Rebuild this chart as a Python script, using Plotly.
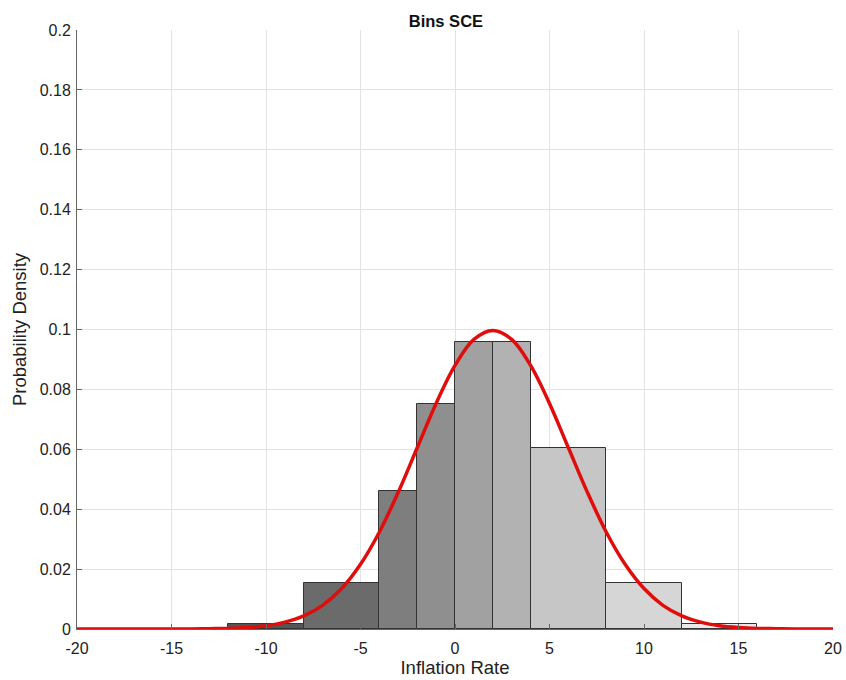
import plotly.graph_objects as go

# Histogram bins (edges) and densities
bin_left = [-12, -8, -4, -2, 0, 2, 4, 8, 12]
bin_right = [-8, -4, -2, 0, 2, 4, 8, 12, 16]
density = [0.0017, 0.0154, 0.046, 0.075, 0.0958, 0.0958, 0.0605, 0.0154, 0.0017]
bar_colors = ["#555555", "#6b6b6b", "#7e7e7e", "#8f8f8f", "#a1a1a1",
              "#b2b2b2", "#c6c6c6", "#d6d6d6", "#e9e9e9"]

# Fitted density curve, x = -20..20
curve_x = list(range(-20, 21))
curve_y = [0.0, 0.0, 0.0, 0.0, 0.0, 0.0, 0.0,
           0.0001, 0.0002, 0.0005, 0.0011, 0.0023, 0.0044, 0.0079, 0.0135, 0.0216,
           0.0324, 0.0457, 0.0605, 0.0753, 0.0880, 0.0967, 0.0997, 0.0967, 0.0880,
           0.0753, 0.0605, 0.0457, 0.0324, 0.0216, 0.0135, 0.0079, 0.0044, 0.0023,
           0.0011, 0.0005, 0.0002, 0.0001, 0.0, 0.0, 0.0]

x_ticks = [-20, -15, -10, -5, 0, 5, 10, 15, 20]
y_ticks = [0, 0.02, 0.04, 0.06, 0.08, 0.1, 0.12, 0.14, 0.16, 0.18, 0.2]
y_ticktext = ["0", "0.02", "0.04", "0.06", "0.08", "0.1", "0.12", "0.14", "0.16", "0.18", "0.2"]

centers = [(a + b) / 2 for a, b in zip(bin_left, bin_right)]
widths = [b - a for a, b in zip(bin_left, bin_right)]

fig = go.Figure()
fig.add_trace(go.Bar(
    x=centers, y=density, width=widths,
    marker=dict(color=bar_colors, line=dict(color="#333333", width=1)),
    showlegend=False, hoverinfo="skip",
))
fig.add_trace(go.Scatter(
    x=curve_x, y=curve_y, mode="lines", line=dict(color="#e00d0d", width=3.5, shape="spline"),
    showlegend=False,
))

font_family = "Liberation Sans, Arial, Helvetica, sans-serif"
fig.update_layout(
    width=846, height=680,
    margin=dict(l=77, r=13, t=30, b=51, autoexpand=False),
    paper_bgcolor="white", plot_bgcolor="white",
    font=dict(family=font_family, size=16, color="#222222"),
    title=dict(text="<b>Bins SCE</b>", x=0.488, xref="paper", xanchor="center",
               y=0.978, yanchor="top", font=dict(size=16.5, color="#111111")),
    bargap=0,
    xaxis=dict(
        range=[-20, 20], tickvals=x_ticks, ticktext=[str(t) for t in x_ticks],
        showgrid=True, gridcolor="#e3e3e3", gridwidth=1,
        showline=True, linecolor="#666666", linewidth=1,
        ticks="inside", ticklen=5, tickcolor="#666666",
        zeroline=False, ticklabelstandoff=5,
        title=dict(text="Inflation Rate", font=dict(size=18.5), standoff=4),
        tickfont=dict(size=16),
    ),
    yaxis=dict(
        range=[0, 0.2], tickvals=y_ticks, ticktext=y_ticktext,
        showgrid=True, gridcolor="#e3e3e3", gridwidth=1,
        showline=True, linecolor="#666666", linewidth=1,
        ticks="inside", ticklen=5, tickcolor="#666666",
        zeroline=False, ticklabelstandoff=2,
        title=dict(text="Probability Density", font=dict(size=18.5), standoff=8),
        tickfont=dict(size=16),
    ),
)

fig.write_html("out.html")
